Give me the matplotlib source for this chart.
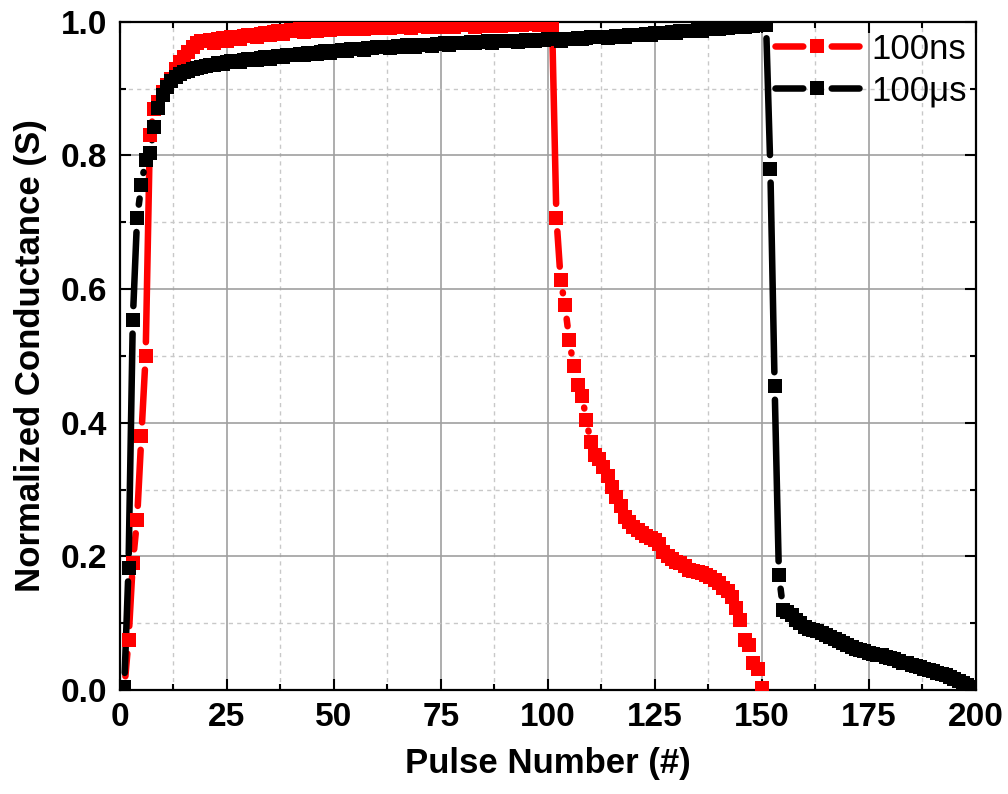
import numpy as np
import matplotlib
matplotlib.use("Agg")
import matplotlib.pyplot as plt
from matplotlib.collections import LineCollection
from matplotlib.lines import Line2D
from matplotlib.ticker import MultipleLocator

plt.rcParams['font.family'] = ['Liberation Sans', 'DejaVu Sans']
plt.rcParams['lines.scale_dashes'] = False

# 100 ns pulses: potentiation (1-101) then depression (102-150)
pulse_ns = np.arange(1, 151)
g_ns = [
    0.0, 0.075, 0.19, 0.255, 0.38, 0.50, 0.83, 0.87, 0.88, 0.895,
    0.905, 0.915, 0.93, 0.94, 0.948, 0.955, 0.962, 0.968, 0.971, 0.972,
    0.973, 0.969, 0.974, 0.976, 0.972, 0.977, 0.978, 0.974, 0.979, 0.98,
    0.98, 0.977, 0.982, 0.984, 0.981, 0.985, 0.986, 0.982, 0.987, 0.988,
    0.986, 0.989, 0.985, 0.988, 0.991, 0.987, 0.99, 0.992, 0.988, 0.99,
    0.993, 0.99, 0.989, 0.993, 0.994, 0.99, 0.989, 0.993, 0.995, 0.991,
    0.993, 0.995, 0.991, 0.993, 0.996, 0.992, 0.994, 0.991, 0.995, 0.996,
    0.994, 0.992, 0.996, 0.997, 0.993, 0.995, 0.997, 0.993, 0.995, 0.997,
    0.995, 0.997, 0.993, 0.996, 0.998, 0.994, 0.996, 0.998, 0.994, 0.996,
    0.998, 0.995, 0.999, 0.996, 0.997, 0.999, 0.997, 0.995, 0.999, 0.997,
    0.995, 0.707, 0.613, 0.576, 0.524, 0.485, 0.457, 0.440, 0.404, 0.371,
    0.352, 0.345, 0.334, 0.320, 0.304, 0.289, 0.275, 0.259, 0.252, 0.244,
    0.240, 0.235, 0.230, 0.228, 0.225, 0.218, 0.207, 0.200, 0.196, 0.192,
    0.190, 0.185, 0.180, 0.178, 0.177, 0.175, 0.172, 0.169, 0.165, 0.160,
    0.152, 0.148, 0.139, 0.122, 0.105, 0.075, 0.068, 0.040, 0.032, 0.003,
]

# 100 us pulses: potentiation (1-151) then depression (152-200)
pulse_us = np.arange(1, 201)
g_us = [
    0.005, 0.183, 0.554, 0.706, 0.756, 0.793, 0.804, 0.843, 0.871, 0.89,
    0.903, 0.912, 0.918, 0.922, 0.925, 0.927, 0.929, 0.931, 0.933, 0.934,
    0.935, 0.936, 0.938, 0.937, 0.94, 0.941, 0.942, 0.94, 0.943, 0.944,
    0.945, 0.943, 0.946, 0.947, 0.945, 0.948, 0.949, 0.947, 0.95, 0.95,
    0.951, 0.952, 0.95, 0.953, 0.954, 0.952, 0.955, 0.956, 0.954, 0.957,
    0.957, 0.958, 0.956, 0.959, 0.959, 0.96, 0.958, 0.961, 0.961, 0.962,
    0.962, 0.963, 0.961, 0.963, 0.964, 0.962, 0.965, 0.965, 0.963, 0.966,
    0.966, 0.966, 0.964, 0.967, 0.967, 0.968, 0.966, 0.968, 0.969, 0.969,
    0.969, 0.97, 0.968, 0.97, 0.97, 0.971, 0.969, 0.971, 0.971, 0.972,
    0.972, 0.972, 0.97, 0.972, 0.973, 0.973, 0.971, 0.973, 0.973, 0.974,
    0.974, 0.974, 0.972, 0.975, 0.975, 0.975, 0.976, 0.974, 0.976, 0.977,
    0.977, 0.977, 0.978, 0.976, 0.978, 0.979, 0.979, 0.977, 0.98, 0.98,
    0.981, 0.981, 0.982, 0.98, 0.983, 0.983, 0.984, 0.984, 0.985, 0.983,
    0.986, 0.986, 0.987, 0.987, 0.988, 0.986, 0.989, 0.989, 0.99, 0.99,
    0.991, 0.991, 0.992, 0.992, 0.993, 0.993, 0.994, 0.994, 0.995, 0.995,
    0.996, 0.78, 0.455, 0.172, 0.12, 0.117, 0.112, 0.105, 0.1, 0.095,
    0.092, 0.09, 0.088, 0.085, 0.083, 0.08, 0.076, 0.073, 0.07, 0.068,
    0.065, 0.062, 0.06, 0.058, 0.056, 0.054, 0.053, 0.052, 0.05, 0.048,
    0.046, 0.043, 0.041, 0.04, 0.038, 0.036, 0.034, 0.032, 0.03, 0.028,
    0.026, 0.024, 0.022, 0.019, 0.016, 0.013, 0.01, 0.008, 0.005, 0.003,
]

labels = ['100ns', '100\u03bcs']
colors = ['#ff0000', '#000000']

LW = 4.7      # line width, pt
MS = 10.5     # square marker size, pt
GAP = 10.5    # clear space around each marker centre, px

fig = plt.figure(figsize=(10.08, 7.94), dpi=100)
ax = fig.add_axes([0.119, 0.131, 0.849, 0.8415])
ax.set_xlim(0, 200)
ax.set_ylim(0, 1.0)


def gapped_line(ax, x, y, color):
    # Origin-style line: each segment is cut back so it stops short of the symbols
    pts = ax.transData.transform(np.column_stack([x, y]))
    cap = LW * fig.dpi / 72 / 2
    segs = []
    for p0, p1 in zip(pts[:-1], pts[1:]):
        d = p1 - p0
        L = np.hypot(*d)
        if L <= 2 * GAP + 1:
            continue
        u = d / L
        cut = min(GAP + cap, L / 2 - 0.5)
        segs.append(ax.transData.inverted().transform([p0 + u * cut, p1 - u * cut]))
    lc = LineCollection(segs, colors=color, linewidths=LW, capstyle='round', zorder=2)
    ax.add_collection(lc)


for x, y, c in [(pulse_ns, g_ns, colors[0]), (pulse_us, g_us, colors[1])]:
    gapped_line(ax, x, y, c)
    ax.plot(x, y, linestyle='none', marker='s', ms=MS, color=c,
            markeredgewidth=0, zorder=3)

# legend proxies with a break around the symbol
handles = [Line2D([], [], color=c, lw=LW, marker='s', ms=MS, markeredgewidth=0,
                  dash_capstyle='round', linestyle=(0, (20.0, 20.5, 20.0, 100)))
           for c in colors]
leg = ax.legend(handles, labels, loc='upper left', bbox_to_anchor=(0.765, 0.984),
                frameon=False, fontsize=25, handlelength=2.42, handletextpad=0.38,
                labelspacing=0.25, borderpad=0, borderaxespad=0, numpoints=1)

ax.xaxis.set_major_locator(MultipleLocator(25))
ax.xaxis.set_minor_locator(MultipleLocator(12.5))
ax.yaxis.set_major_locator(MultipleLocator(0.2))
ax.yaxis.set_minor_locator(MultipleLocator(0.1))
ax.set_yticks(np.arange(0, 1.01, 0.2))
ax.set_yticklabels(['0.0', '0.2', '0.4', '0.6', '0.8', '1.0'])

ax.grid(which='major', color='#a0a0a0', linewidth=1.2, linestyle='-')
ax.grid(which='minor', color='#c8c8c8', linewidth=1.0, linestyle=(0, (3, 3)))
ax.set_axisbelow(True)

ax.tick_params(which='both', direction='in', top=True, right=True, width=1.5)
ax.tick_params(which='major', length=8, labelsize=24, pad=9)
ax.tick_params(which='minor', length=4)
for lab in ax.get_xticklabels() + ax.get_yticklabels():
    lab.set_fontweight('bold')
for s in ax.spines.values():
    s.set_linewidth(1.6)

ax.set_xlabel('Pulse Number (#)', fontsize=25, fontweight='bold', labelpad=10)
ax.set_ylabel('Normalized Conductance (S)', fontsize=25, fontweight='bold', labelpad=10)

fig.savefig('out.png', dpi=100)
